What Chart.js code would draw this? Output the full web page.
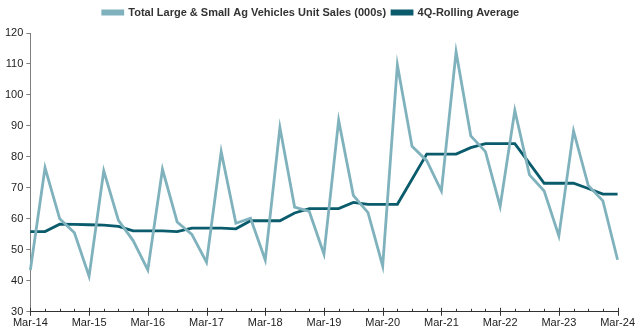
<!DOCTYPE html>
<html>
<head>
<meta charset="utf-8">
<script src="https://cdn.jsdelivr.net/npm/chart.js@4/dist/chart.umd.min.js"></script>
<style>
    html, body { margin: 0; padding: 0; background: #fff; }
    #wrap { width: 640px; height: 335px; }
</style>
</head>
<body>
<div id="wrap"><canvas id="salesChart"></canvas></div>
<script>
// quarterly periods, Mar-14 .. Mar-24
const quarters = [
    "Mar-14", "Jun-14", "Sep-14", "Dec-14",
    "Mar-15", "Jun-15", "Sep-15", "Dec-15",
    "Mar-16", "Jun-16", "Sep-16", "Dec-16",
    "Mar-17", "Jun-17", "Sep-17", "Dec-17",
    "Mar-18", "Jun-18", "Sep-18", "Dec-18",
    "Mar-19", "Jun-19", "Sep-19", "Dec-19",
    "Mar-20", "Jun-20", "Sep-20", "Dec-20",
    "Mar-21", "Jun-21", "Sep-21", "Dec-21",
    "Mar-22", "Jun-22", "Sep-22", "Dec-22",
    "Mar-23", "Jun-23", "Sep-23", "Dec-23",
    "Mar-24"
];

// total large & small ag vehicles unit sales (000s)
const unitSales = [
    43.5, 76.5, 60.0, 55.5,
    41.5, 75.5, 59.5, 53.0,
    43.5, 76.0, 59.0, 55.0,
    46.0, 81.7, 58.6, 60.2,
    46.7, 89.5, 63.8, 62.4,
    48.6, 91.8, 67.6, 62.0,
    44.8, 109.7, 83.4, 78.8,
    69.0, 113.9, 86.8, 81.7,
    64.0, 95.0, 74.2, 69.0,
    54.5, 88.4, 70.8, 65.8,
    46.8
];

// 4Q rolling average
const rollingAvg = [
    55.9, 55.9, 58.3, 58.2,
    58.1, 58.0, 57.6, 56.1,
    56.1, 56.1, 55.9, 57.0,
    57.0, 57.0, 56.8, 59.4,
    59.4, 59.4, 61.9, 63.3,
    63.3, 63.3, 65.3, 64.7,
    64.7, 64.7, 72.8, 80.9,
    80.9, 80.9, 83.0, 84.3,
    84.3, 84.3, 77.9, 71.5,
    71.5, 71.5, 69.8, 68.0,
    68.0
];

const yTicks = [30, 40, 50, 60, 70, 80, 90, 100, 110, 120];

const LIGHT = "#7fb2bc";
const DARK = "#0a5c6c";
const AXIS = "#808080";
const FONT = "'Liberation Sans', Arial, sans-serif";

// extra room under the legend
const legendGap = {
    id: "legendGap",
    beforeInit(chart) {
        const fit = chart.legend.fit;
        chart.legend.fit = function () {
            fit.bind(chart.legend)();
            this.height += 5;
        };
    }
};

// quarter tick marks on the x axis: long ones at each year, short ones between
const quarterTicks = {
    id: "quarterTicks",
    afterDraw(chart) {
        const x = chart.scales.x;
        const ctx = chart.ctx;
        const y0 = x.top;
        ctx.save();
        ctx.strokeStyle = "#333";
        ctx.lineWidth = 1;
        quarters.forEach((q, i) => {
            const px = Math.round(x.getPixelForValue(i)) + 0.5;
            ctx.beginPath();
            if (i % 4 === 0) {
                ctx.moveTo(px, y0 - 4);
                ctx.lineTo(px, y0 + 4);
            } else {
                ctx.moveTo(px, y0 - 3);
                ctx.lineTo(px, y0);
            }
            ctx.stroke();
        });
        ctx.restore();
    }
};

const ctx = document.getElementById("salesChart").getContext("2d");
new Chart(ctx, {
    type: "line",
    data: {
        labels: quarters,
        datasets: [
            {
                label: "Total Large & Small Ag Vehicles Unit Sales (000s)",
                data: unitSales,
                borderColor: LIGHT,
                backgroundColor: LIGHT,
                borderWidth: 2.8,
                pointRadius: 0,
                tension: 0,
                fill: false
            },
            {
                label: "4Q-Rolling Average",
                data: rollingAvg,
                borderColor: DARK,
                backgroundColor: DARK,
                borderWidth: 2.8,
                pointRadius: 0,
                tension: 0,
                fill: false
            }
        ]
    },
    options: {
        responsive: true,
        maintainAspectRatio: false,
        animation: false,
        layout: { padding: { left: 2, right: 20, top: 1, bottom: 0 } },
        plugins: {
            legend: {
                display: true,
                position: "top",
                labels: {
                    boxWidth: 20,
                    boxHeight: 3,
                    padding: 6,
                    color: "#333",
                    font: { family: FONT, size: 11, weight: "bold" }
                }
            },
            tooltip: { enabled: false }
        },
        scales: {
            x: {
                offset: false,
                grid: { display: true, drawOnChartArea: false, drawTicks: false },
                border: { display: true, color: "#333", width: 1 },
                ticks: {
                    autoSkip: false,
                    maxRotation: 0,
                    padding: 5,
                    color: "#222",
                    font: { family: FONT, size: 11 },
                    callback: (v, i) => (i % 4 === 0 ? quarters[i] : "")
                }
            },
            y: {
                min: 30,
                max: 120,
                afterBuildTicks: axis => { axis.ticks = yTicks.map(v => ({ value: v })); },
                grid: { drawOnChartArea: false, drawTicks: true, tickLength: 4, color: AXIS },
                border: { display: true, color: AXIS, width: 1 },
                ticks: {
                    padding: 3,
                    color: "#222",
                    font: { family: FONT, size: 11 }
                }
            }
        }
    },
    plugins: [legendGap, quarterTicks]
});
</script>
</body>
</html>
